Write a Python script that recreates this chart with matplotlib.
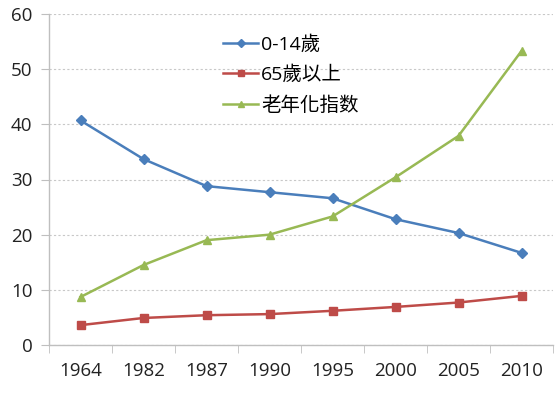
import matplotlib
matplotlib.use("Agg")
import matplotlib.pyplot as plt
from matplotlib.ticker import FixedLocator

plt.rcParams['font.family'] = ['Open Sans', 'Noto Sans CJK TC', 'DejaVu Sans']

years = ['1964', '1982', '1987', '1990', '1995', '2000', '2005', '2010']
children = [40.7, 33.7, 28.8, 27.7, 26.6, 22.8, 20.3, 16.7]
elderly = [3.6, 4.9, 5.4, 5.6, 6.2, 6.9, 7.7, 8.9]
aging_index = [8.7, 14.5, 19.0, 20.0, 23.3, 30.4, 37.9, 53.3]
labels = ['0-14歲', '65歲以上', '老年化指数']

fig = plt.figure(figsize=(5.57, 4.05), dpi=100)
ax = fig.add_axes([49/557, 1-345/405, (553-49)/557, (345-14)/405])

x = list(range(len(years)))
ax.plot(x, children, color='#4A7EBB', marker='D', markersize=5, lw=1.8, label=labels[0])
ax.plot(x, elderly, color='#BE4B48', marker='s', markersize=6, lw=1.8, label=labels[1])
ax.plot(x, aging_index, color='#98B954', marker='^', markersize=6, lw=1.8, label=labels[2])

ax.set_xlim(-0.5, len(years) - 0.5)
ax.set_ylim(0, 60)
ax.set_yticks(range(0, 61, 10))
ax.set_xticks(x)
ax.set_xticklabels(years)
ax.xaxis.set_minor_locator(FixedLocator([i - 0.5 for i in range(len(years) + 1)]))
ax.tick_params(axis='x', which='major', length=0, pad=12, labelsize=13.5, colors='#222222')
ax.tick_params(axis='x', which='minor', length=6, color='#BFBFBF')
ax.tick_params(axis='y', length=6, color='#BFBFBF', labelsize=13.5, labelcolor='#222222', pad=6)

ax.grid(axis='y', color='#C8C8C8', linestyle=(0, (2, 2)), linewidth=0.8)
ax.set_axisbelow(True)
for s in ['top', 'right']:
    ax.spines[s].set_visible(False)
for s in ['left', 'bottom']:
    ax.spines[s].set_color('#BFBFBF')
    ax.spines[s].set_linewidth(1.0)

ax.legend(loc='upper left', bbox_to_anchor=(0.33, 0.96), frameon=False, fontsize=14,
          handlelength=1.8, handletextpad=0.15, labelspacing=0.62, borderaxespad=0, markerscale=0.8)

fig.savefig('out.png', dpi=100)
